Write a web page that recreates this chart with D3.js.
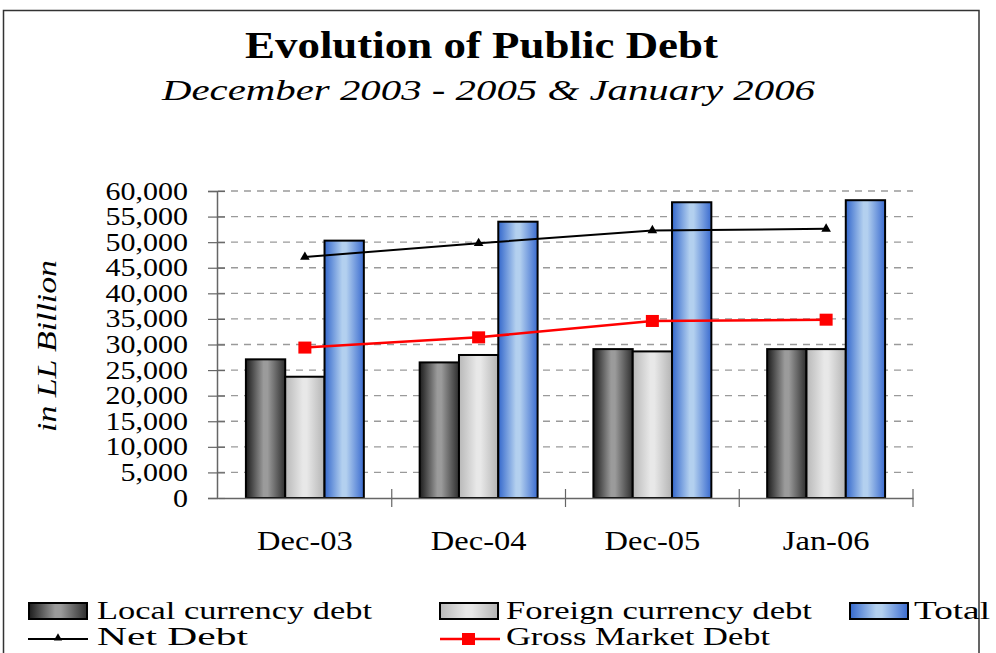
<!DOCTYPE html>
<html>
<head>
<meta charset="utf-8">
<script src="https://cdn.jsdelivr.net/npm/d3@7"></script>
<style>
  body { margin: 0; background: #fff; }
  svg text { font-family: "Liberation Serif", "Times New Roman", Times, serif; fill: #000; }
</style>
</head>
<body>
<div id="chart"></div>
<script>
// values (LL billion)
var categories = ["Dec-03", "Dec-04", "Dec-05", "Jan-06"];
var localDebt = [27100, 26500, 29100, 29100];
var foreignDebt = [23700, 27950, 28650, 29100];
var totalDebt = [50300, 54000, 57800, 58200];
var netDebt = [47100, 49800, 52300, 52600];
var grossMarketDebt = [29400, 31400, 34600, 34850];
var yTicks = [0, 5000, 10000, 15000, 20000, 25000, 30000, 35000, 40000, 45000, 50000, 55000, 60000];

var barSeries = [
  { key: "local", name: "Local currency debt", values: localDebt, grad: "gLocal" },
  { key: "foreign", name: "Foreign currency debt", values: foreignDebt, grad: "gForeign" },
  { key: "total", name: "Total", values: totalDebt, grad: "gTotal" }
];

var width = 996, height = 653;

var svg = d3.select("#chart").append("svg")
    .attr("width", width)
    .attr("height", height);

// gradients for the bars
var defs = svg.append("defs");
function addGrad(id, edgeL, mid, edgeR) {
  var g = defs.append("linearGradient").attr("id", id)
      .attr("x1", "0").attr("x2", "1").attr("y1", "0").attr("y2", "0");
  g.append("stop").attr("offset", "0%").attr("stop-color", edgeL);
  g.append("stop").attr("offset", "45%").attr("stop-color", mid);
  g.append("stop").attr("offset", "55%").attr("stop-color", mid);
  g.append("stop").attr("offset", "100%").attr("stop-color", edgeR);
}
addGrad("gLocal", "#1c1c1c", "#9b9b9b", "#2e2e2e");
addGrad("gForeign", "#b8b8b8", "#e8e8e8", "#b4b4b4");
addGrad("gTotal", "#3468cc", "#b3d0ef", "#3a6bcf");

// outer frame
svg.append("rect")
    .attr("x", 3.5).attr("y", 10.5)
    .attr("width", 975.5).attr("height", 700)
    .attr("fill", "none")
    .attr("stroke", "#333")
    .attr("stroke-width", 1.5);

// titles
svg.append("text")
    .attr("x", 481.5).attr("y", 58)
    .attr("text-anchor", "middle")
    .style("font-size", "37px")
    .style("font-weight", "bold")
    .attr("textLength", 473)
    .attr("lengthAdjust", "spacingAndGlyphs")
    .text("Evolution of Public Debt");

svg.append("text")
    .attr("x", 488.5).attr("y", 100)
    .attr("text-anchor", "middle")
    .style("font-size", "29px")
    .style("font-style", "italic")
    .attr("textLength", 653)
    .attr("lengthAdjust", "spacingAndGlyphs")
    .text("December 2003 - 2005 & January 2006");

// scales
var x0 = d3.scaleBand().domain(categories).range([218, 913]).padding(0);
var x1 = d3.scaleBand().domain(barSeries.map(function(d) { return d.key; }))
    .range([0, x0.bandwidth()])
    .paddingInner(0)
    .paddingOuter(0.71);
var y = d3.scaleLinear().domain([0, 60000]).range([498, 191]);

// stretch text horizontally like the original
function stretch(sel, k) {
  sel.each(function() {
    var w = this.getComputedTextLength();
    d3.select(this).attr("textLength", w * k).attr("lengthAdjust", "spacingAndGlyphs");
  });
}

// gridlines
svg.append("g").attr("class", "grid")
  .selectAll("line")
  .data(yTicks.slice(1))
  .enter().append("line")
    .attr("x1", x0.range()[0])
    .attr("x2", x0.range()[1])
    .attr("y1", function(d) { return y(d); })
    .attr("y2", function(d) { return y(d); })
    .attr("stroke", "#9a9a9a")
    .attr("stroke-width", 1.3)
    .attr("stroke-dasharray", "7,6");

// y axis
var yAxis = svg.append("g")
    .attr("transform", "translate(217,0)")
    .call(d3.axisLeft(y).tickValues(yTicks).tickFormat(d3.format(",")).tickSize(9).tickPadding(20));
yAxis.attr("font-family", null);
yAxis.select(".domain").attr("stroke", "#666").attr("stroke-width", 1.5);
yAxis.selectAll(".tick line").attr("x1", 8).attr("stroke", "#666").attr("stroke-width", 1.2);
yAxis.selectAll(".tick text")
    .style("font-size", "25px")
    .attr("fill", "#000")
    .call(stretch, 1.2);

svg.append("text")
    .attr("transform", "translate(56,346) rotate(-90)")
    .attr("text-anchor", "middle")
    .style("font-size", "27px")
    .style("font-style", "italic")
    .attr("textLength", 172)
    .attr("lengthAdjust", "spacingAndGlyphs")
    .text("in LL Billion");

// bars
var groups = svg.append("g").selectAll("g.cat")
    .data(categories)
    .enter().append("g")
    .attr("class", "cat")
    .attr("transform", function(d) { return "translate(" + x0(d) + ",0)"; });

groups.selectAll("rect")
    .data(function(c, i) {
      return barSeries.map(function(s) { return { key: s.key, grad: s.grad, value: s.values[i] }; });
    })
    .enter().append("rect")
    .attr("x", function(d) { return x1(d.key); })
    .attr("width", x1.bandwidth())
    .attr("y", function(d) { return y(d.value); })
    .attr("height", function(d) { return y(0) - y(d.value); })
    .attr("fill", function(d) { return "url(#" + d.grad + ")"; })
    .attr("stroke", "#000")
    .attr("stroke-width", 2);

// x axis
var xAxis = svg.append("g")
    .attr("transform", "translate(0,498)")
    .call(d3.axisBottom(x0).tickSize(0).tickPadding(32));
xAxis.attr("font-family", null);
xAxis.select(".domain").attr("stroke", "#666").attr("stroke-width", 1.5);
xAxis.selectAll(".tick text")
    .style("font-size", "28px")
    .attr("fill", "#000")
    .call(stretch, 1.16);

// category boundary ticks
var bounds = categories.map(function(c) { return x0(c); }).slice(1).concat([x0.range()[1]]);
xAxis.selectAll("line.bound")
    .data(bounds)
    .enter().append("line")
    .attr("class", "bound")
    .attr("x1", function(d) { return d; })
    .attr("x2", function(d) { return d; })
    .attr("y1", -9).attr("y2", 9)
    .attr("stroke", "#666")
    .attr("stroke-width", 1.2);

// lines
var cx = function(d, i) { return x0(categories[i]) + x0.bandwidth() / 2; };
var line = d3.line()
    .x(function(d, i) { return cx(d, i); })
    .y(function(d) { return y(d); });

svg.append("path")
    .datum(netDebt)
    .attr("d", line)
    .attr("fill", "none")
    .attr("stroke", "#000")
    .attr("stroke-width", 2);

svg.append("g").selectAll("path")
    .data(netDebt)
    .enter().append("path")
    .attr("d", d3.symbol().type(d3.symbolTriangle).size(40))
    .attr("transform", function(d, i) { return "translate(" + cx(d, i) + "," + y(d) + ")"; })
    .attr("fill", "#000");

svg.append("path")
    .datum(grossMarketDebt)
    .attr("d", line)
    .attr("fill", "none")
    .attr("stroke", "#ff0000")
    .attr("stroke-width", 2.5);

svg.append("g").selectAll("rect")
    .data(grossMarketDebt)
    .enter().append("rect")
    .attr("x", function(d, i) { return cx(d, i) - 6.5; })
    .attr("y", function(d) { return y(d) - 6; })
    .attr("width", 13)
    .attr("height", 12)
    .attr("fill", "#ff0000");

// legend
var legendBars = [
  { s: barSeries[0], x: 29, tx: 97, tw: 275 },
  { s: barSeries[1], x: 440, tx: 506, tw: 306 },
  { s: barSeries[2], x: 850, tx: 914, tw: 76 }
];
var legend = svg.append("g").attr("class", "legend");

legend.selectAll("rect.sw")
    .data(legendBars)
    .enter().append("rect")
    .attr("class", "sw")
    .attr("x", function(d) { return d.x; })
    .attr("y", 603)
    .attr("width", 58)
    .attr("height", 16)
    .attr("fill", function(d) { return "url(#" + d.s.grad + ")"; })
    .attr("stroke", "#000")
    .attr("stroke-width", 2);

legend.selectAll("text.lb")
    .data(legendBars)
    .enter().append("text")
    .attr("class", "lb")
    .attr("x", function(d) { return d.tx; })
    .attr("y", 619)
    .style("font-size", "25px")
    .attr("textLength", function(d) { return d.tw; })
    .attr("lengthAdjust", "spacingAndGlyphs")
    .text(function(d) { return d.s.name; });

var legendLines = [
  { name: "Net Debt", color: "#000", x: 28, tx: 97, tw: 151, mark: "tri", sw: 2 },
  { name: "Gross Market Debt", color: "#ff0000", x: 440, tx: 506, tw: 264, mark: "sq", sw: 2.5 }
];

legendLines.forEach(function(d) {
  legend.append("line")
      .attr("x1", d.x).attr("x2", d.x + 60)
      .attr("y1", 639).attr("y2", 639)
      .attr("stroke", d.color)
      .attr("stroke-width", d.sw);
  if (d.mark == "tri") {
    legend.append("path")
        .attr("d", d3.symbol().type(d3.symbolTriangle).size(30))
        .attr("transform", "translate(" + (d.x + 30) + ",638)")
        .attr("fill", d.color);
  } else {
    legend.append("rect")
        .attr("x", d.x + 22).attr("y", 633)
        .attr("width", 13).attr("height", 12)
        .attr("fill", d.color);
  }
  legend.append("text")
      .attr("x", d.tx).attr("y", 645)
      .style("font-size", "25px")
      .attr("textLength", d.tw)
      .attr("lengthAdjust", "spacingAndGlyphs")
      .text(d.name);
});
</script>
</body>
</html>
